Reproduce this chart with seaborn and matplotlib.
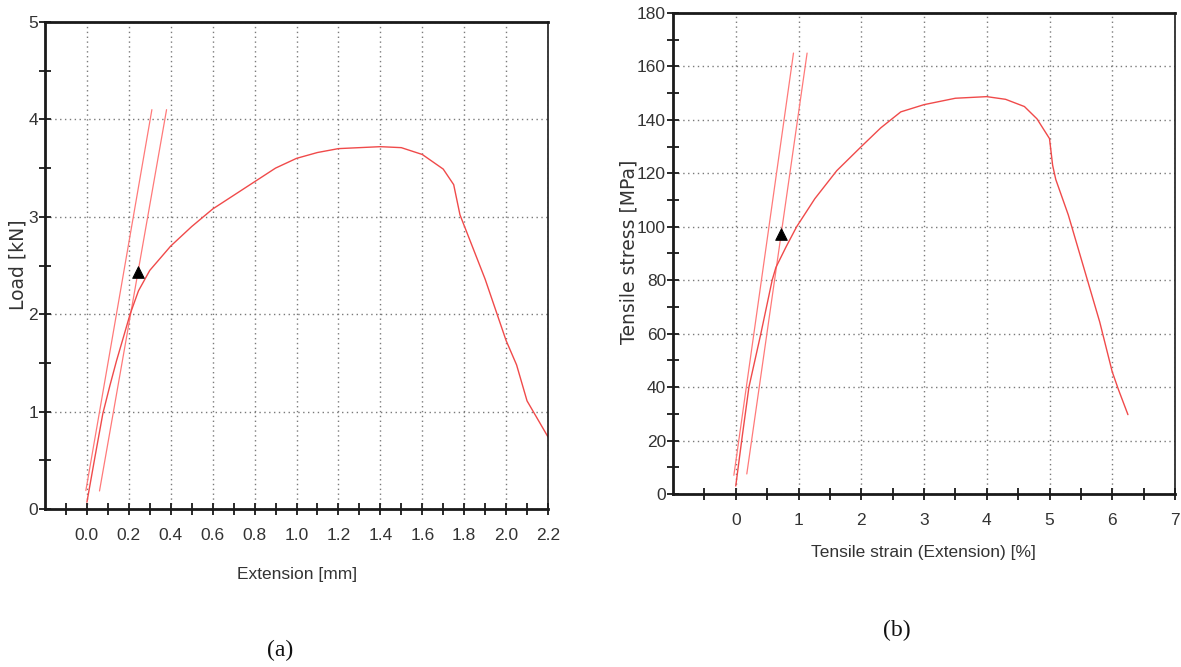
import matplotlib
matplotlib.use("Agg")
import matplotlib.pyplot as plt
from matplotlib.ticker import MultipleLocator, FormatStrFormatter
import seaborn as sns
import pandas as pd

sns.set_theme(style="white")
plt.rcParams['font.family'] = ['Liberation Sans', 'DejaVu Sans']

# ---------------- Panel (a): Load vs Extension ----------------
ext_mm = [0.0, 0.038, 0.076, 0.11, 0.141, 0.175, 0.206, 0.246, 0.3, 0.4, 0.5,
          0.6, 0.7, 0.8, 0.9, 1.0, 1.1, 1.2, 1.3, 1.4, 1.5, 1.6, 1.7, 1.75,
          1.78, 1.8, 1.9, 2.0, 2.05, 2.1, 2.2]
load_kn = [0.07, 0.53, 0.98, 1.27, 1.52, 1.77, 2.0, 2.24, 2.45, 2.7, 2.9,
           3.08, 3.22, 3.36, 3.5, 3.6, 3.66, 3.70, 3.71, 3.72, 3.71, 3.64, 3.49,
           3.33, 3.02, 2.91, 2.36, 1.73, 1.48, 1.11, 0.74]
mod_a1_x = [-0.005, 0.31]
mod_a1_y = [0.19, 4.1]
mod_a2_x = [0.06, 0.38]
mod_a2_y = [0.185, 4.1]
mark_a_x = [0.245]
mark_a_y = [2.43]

# ---------------- Panel (b): Stress vs Strain ----------------
strain_pct = [0.0, 0.1, 0.21, 0.40, 0.58, 0.64, 0.8, 0.97, 1.26, 1.61, 2.0,
              2.31, 2.63, 3.0, 3.5, 4.0, 4.3, 4.6, 4.8, 5.0, 5.05, 5.1, 5.3,
              5.6, 5.8, 6.0, 6.1, 6.25]
stress_mpa = [3, 21, 40, 60, 80, 84.8, 92.4, 100, 110.5, 121, 130,
              137, 143, 145.7, 148.1, 148.7, 147.7, 145, 140.4, 133, 123, 117.7,
              104.4, 80.4, 64.4, 45.7, 39, 29.7]
mod_b1_x = [-0.03, 0.92]
mod_b1_y = [7.0, 165.0]
mod_b2_x = [0.176, 1.137]
mod_b2_y = [7.5, 165.0]
mark_b_x = [0.72]
mark_b_y = [97.3]

W, H = 1181, 667
fig = plt.figure(figsize=(W / 100, H / 100), dpi=100)
fig.patch.set_facecolor("white")

CURVE = "#f04a4a"
MODL = "#ff7a7a"
GRID = "#7a7a7a"


def px_axes(l, t, r, b):
    return fig.add_axes([l / W, 1 - b / H, (r - l) / W, (b - t) / H])


def style_axes(ax):
    ax.set_facecolor("white")
    ax.grid(True, which="major", color=GRID, linestyle=(0, (1, 2.5)), linewidth=1.0)
    ax.grid(False, which="minor")
    for s in ["left", "bottom", "top"]:
        ax.spines[s].set_color("#1a1a1a")
        ax.spines[s].set_linewidth(2.0)
    ax.spines["right"].set_color("#1a1a1a")
    ax.spines["right"].set_linewidth(1.2)
    ax.tick_params(axis="both", which="both", direction="inout", length=8,
                   width=1.4, color="#2a2a2a", labelsize=12.5, labelcolor="#333333",
                   bottom=True, left=True, top=False, right=False)
    ax.tick_params(axis="y", which="both", pad=1)
    ax.tick_params(axis="x", which="both", pad=10)
    ax.set_xlabel("")
    ax.set_ylabel("")


# ---- (a)
ax1 = px_axes(45, 22, 548, 509)
df_a = pd.DataFrame({"x": ext_mm, "y": load_kn})
sns.lineplot(data=pd.DataFrame({"x": mod_a1_x, "y": mod_a1_y}), x="x", y="y",
             ax=ax1, color=MODL, linewidth=0.9, sort=False, estimator=None)
sns.lineplot(data=pd.DataFrame({"x": mod_a2_x, "y": mod_a2_y}), x="x", y="y",
             ax=ax1, color=MODL, linewidth=0.9, sort=False, estimator=None)
sns.lineplot(data=df_a, x="x", y="y", ax=ax1, color=CURVE, linewidth=1.0,
             sort=False, estimator=None)
sns.scatterplot(x=mark_a_x, y=mark_a_y, ax=ax1, marker="^", s=70, color="black",
                edgecolor="black", zorder=5)
ax1.set_xlim(-0.2, 2.2)
ax1.set_ylim(0, 5)
ax1.xaxis.set_major_formatter(FormatStrFormatter("%.1f"))
ax1.yaxis.set_major_locator(MultipleLocator(1))
ax1.yaxis.set_minor_locator(MultipleLocator(0.5))
style_axes(ax1)
ax1.set_xticks([0.0, 0.2, 0.4, 0.6, 0.8, 1.0, 1.2, 1.4, 1.6, 1.8, 2.0, 2.2])
ax1.set_xticks([-0.1, 0.1, 0.3, 0.5, 0.7, 0.9, 1.1, 1.3, 1.5, 1.7, 1.9, 2.1], minor=True)

# ---- (b)
ax2 = px_axes(673, 13, 1175, 494)
df_b = pd.DataFrame({"x": strain_pct, "y": stress_mpa})
sns.lineplot(data=pd.DataFrame({"x": mod_b1_x, "y": mod_b1_y}), x="x", y="y",
             ax=ax2, color=MODL, linewidth=0.9, sort=False, estimator=None)
sns.lineplot(data=pd.DataFrame({"x": mod_b2_x, "y": mod_b2_y}), x="x", y="y",
             ax=ax2, color=MODL, linewidth=0.9, sort=False, estimator=None)
sns.lineplot(data=df_b, x="x", y="y", ax=ax2, color=CURVE, linewidth=1.0,
             sort=False, estimator=None)
sns.scatterplot(x=mark_b_x, y=mark_b_y, ax=ax2, marker="^", s=70, color="black",
                edgecolor="black", zorder=5)
ax2.set_xlim(-1, 7)
ax2.set_ylim(0, 180)
ax2.yaxis.set_major_locator(MultipleLocator(20))
ax2.yaxis.set_minor_locator(MultipleLocator(10))
style_axes(ax2)
ax2.set_xticks([0, 1, 2, 3, 4, 5, 6, 7])
ax2.set_xticks([-0.5, 0.5, 1.5, 2.5, 3.5, 4.5, 5.5, 6.5], minor=True)

# ---- labels
def ftext(x, y, s, **kw):
    fig.text(x / W, 1 - y / H, s, ha="center", va="center", **kw)

ftext(297, 575, "Extension [mm]", fontsize=12.5, color="#333333")
ftext(923, 553, "Tensile strain (Extension) [%]", fontsize=12.5, color="#333333")
ftext(18, 265, "Load [kN]", fontsize=13.5, rotation=90, color="#333333",
      family=["DejaVu Sans"])
ftext(629, 252, "Tensile stress [MPa]", fontsize=13.5, rotation=90, color="#333333",
      family=["DejaVu Sans"])
ftext(280, 650, "(a)", fontsize=17, color="#111111", family=["Liberation Serif"])
ftext(897, 630, "(b)", fontsize=17, color="#111111", family=["Liberation Serif"])

fig.savefig("out.png", dpi=100, facecolor="white")
